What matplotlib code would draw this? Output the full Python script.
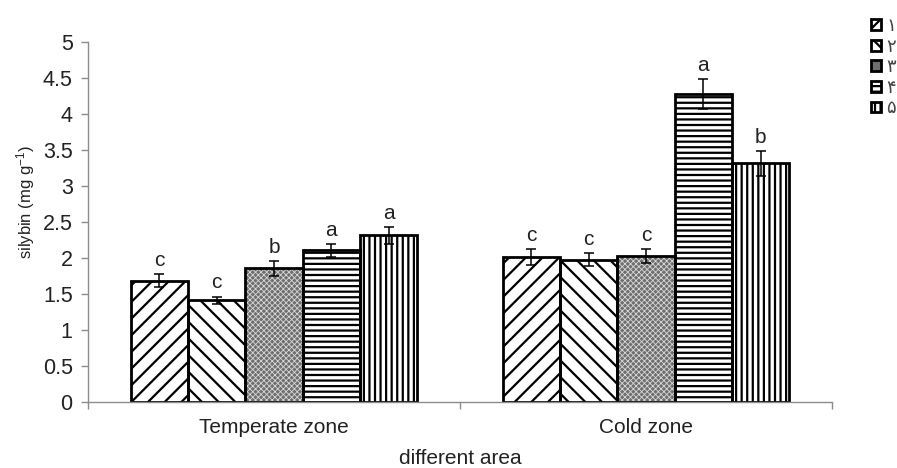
import matplotlib
matplotlib.use("Agg")
import matplotlib.pyplot as plt
from matplotlib.patches import Rectangle
import numpy as np

plt.rcParams['font.family'] = ['Liberation Sans', 'DejaVu Sans']
plt.rcParams['mathtext.fontset'] = 'custom'
plt.rcParams['mathtext.rm'] = 'Liberation Sans'
plt.rcParams['mathtext.it'] = 'Liberation Sans'
plt.rcParams['hatch.linewidth'] = 1.6

categories = ["Temperate zone", "Cold zone"]
series_labels = ["\u06f1", "\u06f2", "\u06f3", "\u06f4", "\u06f5"]
values = [
    [1.68, 1.41, 1.85, 2.10, 2.31],   # Temperate zone
    [2.01, 1.97, 2.02, 4.27, 3.31],   # Cold zone
]
errors = [
    [0.09, 0.05, 0.10, 0.09, 0.12],
    [0.11, 0.09, 0.10, 0.21, 0.17],
]
letters = [
    ["c", "c", "b", "a", "a"],
    ["c", "c", "c", "a", "b"],
]
yticks = [0, 0.5, 1, 1.5, 2, 2.5, 3, 3.5, 4, 4.5, 5]
ytick_labels = ["0", "0.5", "1", "1.5", "2", "2.5", "3", "3.5", "4", "4.5", "5"]

hatches = ['//', '\\\\', 'xxxxxx', '---', '|||']
faces = ['white', 'white', '#6e6e6e', 'white', 'white']
hatch_cols = ['black', 'black', '#d8d8d8', 'black', 'black']
hatch_lws = [1.6, 1.6, 0.6, 1.6, 1.6]

W, H = 897, 468
fig = plt.figure(figsize=(W / 100, H / 100), dpi=100)
ax = fig.add_axes([88 / W, 1 - 401.7 / H, (832 - 88) / W, 360 / H])

ncat = len(categories)
nser = len(series_labels)
bw = 0.154
x = np.arange(ncat)
vals = np.array(values)
errs = np.array(errors)
text_col = '#222222'
axis_col = '#8c8c8c'

handles = []
for j in range(nser):
    xpos = x - (nser / 2 - 0.5) * bw + j * bw
    with plt.rc_context({'hatch.linewidth': hatch_lws[j]}):
        ax.bar(xpos, vals[:, j], width=bw, facecolor=faces[j], edgecolor=hatch_cols[j],
               linewidth=0, hatch=hatches[j], zorder=2)
    ax.bar(xpos, vals[:, j], width=bw, facecolor='none', edgecolor='black',
           linewidth=2.0, zorder=2.5)
    with plt.rc_context({'hatch.linewidth': hatch_lws[j]}):
        h = Rectangle((0, 0), 1, 1, facecolor=faces[j], edgecolor='black',
                      linewidth=2.0, hatch=hatches[j] if j != 2 else None)
    handles.append(h)
    ax.errorbar(xpos, vals[:, j], yerr=errs[:, j], fmt='none', ecolor='black',
                elinewidth=1.1, capsize=3.8, capthick=1.1, zorder=3)
    for i in range(ncat):
        ax.annotate(letters[i][j], xy=(xpos[i], vals[i, j] + errs[i, j]),
                    xytext=(0, 3), textcoords='offset points', ha='center', va='bottom',
                    fontsize=15, color=text_col)

ax.set_xlim(-0.5, ncat - 0.5)
ax.set_ylim(0, 5)
ax.set_yticks(yticks)
ax.set_yticklabels(ytick_labels)
ax.set_xticks(x)
ax.set_xticklabels(categories)
ax.set_xticks(np.arange(ncat + 1) - 0.5, minor=True)
ax.tick_params(axis='x', which='major', length=0, pad=12, labelsize=15, colors=text_col)
ax.tick_params(axis='x', which='minor', length=5, direction='out', color=axis_col, width=1)
ax.tick_params(axis='y', length=5, direction='out', color=axis_col, width=1,
               labelsize=15.5, labelcolor=text_col, pad=6)
for s in ['top', 'right']:
    ax.spines[s].set_visible(False)
for s in ['left', 'bottom']:
    ax.spines[s].set_color(axis_col)
    ax.spines[s].set_linewidth(1)

fig.text(26 / W, 1 - 202 / H, "silybin (mg g$^{-1}$)", rotation=90, ha='center',
         va='center', fontsize=12, color=text_col)
fig.text(460 / W, 1 - 459 / H, "different area", ha='center', va='center',
         fontsize=15, color=text_col)

leg = fig.legend(handles, series_labels, loc='upper left',
                 bbox_to_anchor=(871 / W, 1 - 18 / H), frameon=False,
                 handlelength=0.55, handleheight=0.55, handletextpad=0.3,
                 labelspacing=0.2, fontsize=13, borderaxespad=0, borderpad=0)
for t in leg.get_texts():
    t.set_color('#444444')

fig.savefig("out.png", dpi=100)
